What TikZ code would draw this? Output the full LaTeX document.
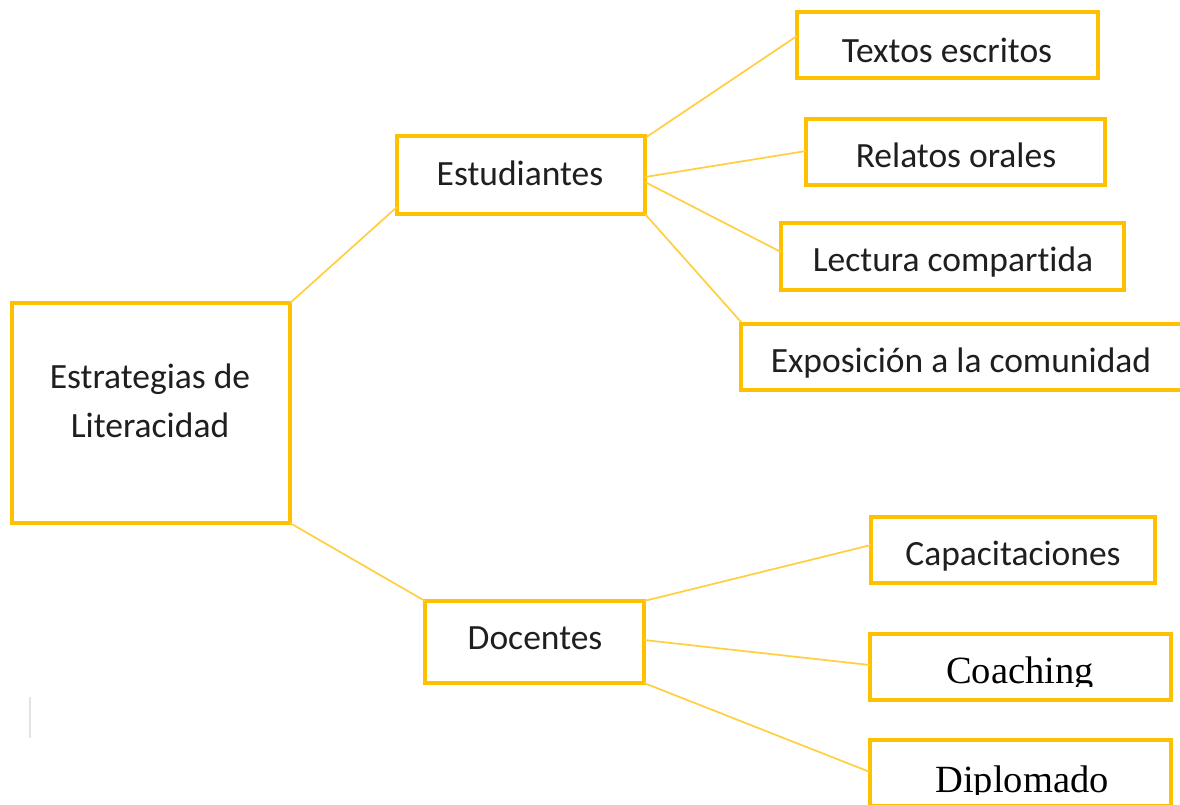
\documentclass[tikz,border=0pt]{standalone}
\usepackage{fontspec}
\setmainfont{Carlito}[Ligatures={NoCommon}]
\newfontfamily\timesf{Liberation Serif}
\usetikzlibrary{calc}
\definecolor{boxgold}{HTML}{FFC000}
\definecolor{linegold}{HTML}{FFCF40}
\definecolor{faintgrey}{HTML}{E4E4E4}
\tikzset{
  box/.style={draw=boxgold, line width=3.2pt, rectangle, inner sep=0pt, outer sep=0pt},
  lbl/.style={inner sep=0pt, outer sep=0pt, anchor=base, font=\fontsize{35.5pt}{49pt}\selectfont, text=black!88},
  serif/.style={inner sep=0pt, outer sep=0pt, anchor=base, font=\timesf\fontsize{38.5pt}{46pt}\selectfont, text=black},
  conn/.style={draw=linegold, line width=1.7pt}
}
\begin{document}
\begin{tikzpicture}[x=1pt,y=-1pt]
\clip (0,0) rectangle (1180,804);
\fill[white] (0,0) rectangle (1180,804);

% boxes
\node[box, minimum width=278pt, minimum height=220pt] (main) at (151,413) {};
\node[box, minimum width=248pt, minimum height=78pt] (est) at (521,175) {};
\node[box, minimum width=219pt, minimum height=82pt] (doc) at (534.5,642) {};
\node[box, minimum width=301pt, minimum height=66pt] (tex) at (947.5,45) {};
\node[box, minimum width=299pt, minimum height=66pt] (rel) at (955.5,152) {};
\node[box, minimum width=343pt, minimum height=67pt] (lec) at (952.5,256.5) {};
\node[box, minimum width=446pt, minimum height=66pt] (exp) at (964,357) {};
\node[box, minimum width=284pt, minimum height=66pt] (cap) at (1013,550) {};
\node[box, minimum width=301pt, minimum height=66pt] (coa) at (1020.5,667) {};
\node[box, minimum width=301pt, minimum height=66pt] (dip) at (1020.5,773) {};

% labels
\node[lbl] (mainA) at (150,388) {Estrategias de};
\node[lbl] (mainB) at (150,437) {Literacidad};
\node[lbl] (estT) at (520,185) {Estudiantes};
\node[lbl] (docT) at (535,649) {Docentes};
\node[lbl] (texT) at (947,62) {Textos escritos};
\node[lbl] (relT) at (956,167) {Relatos orales};
\node[lbl] (lecT) at (953,271) {Lectura compartida};
\node[lbl] (expT) at (961,372) {Exposición a la comunidad};
\node[lbl] (capT) at (1013,565) {Capacitaciones};
\begin{scope}
  \clip (872,636) rectangle (1169,686);
  \node[serif] (coaT) at (1020,683) {Coaching};
\end{scope}
\begin{scope}
  \clip (872,742) rectangle (1169,794);
  \node[serif] (dipT) at (1022,792) {Diplomado};
\end{scope}

% connectors
\draw[conn] (main.north east) -- ($(est.south west)+(0,-7)$);
\draw[conn] (main.south east) -- (doc.north west);
\draw[conn] ($(est.north east)+(0,2)$) -- ($(tex.west)+(0,-9)$);
\draw[conn] ($(est.east)+(0,2)$) -- ($(rel.west)+(0,-1)$);
\draw[conn] ($(est.east)+(0,7)$) -- ($(lec.west)+(0,-4.5)$);
\draw[conn] (est.south east) -- ($(exp.north west)+(0,-2)$);
\draw[conn] (doc.north east) -- ($(cap.west)+(0,-5)$);
\draw[conn] ($(doc.east)+(0,-2)$) -- ($(coa.west)+(0,-2)$);
\draw[conn] (doc.south east) -- ($(dip.west)+(0,-1)$);

% faint mark
\coordinate (fa) at (30,697);
\coordinate (fb) at (30,738);
\draw[faintgrey, line width=1.5pt] (fa) -- (fb);
\end{tikzpicture}
\end{document}
